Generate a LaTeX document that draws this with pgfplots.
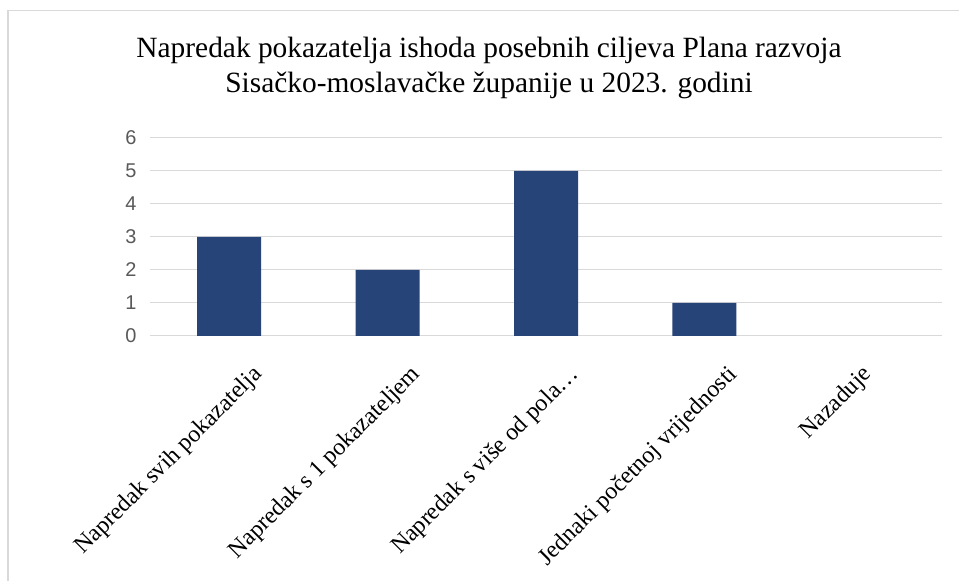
\documentclass[border=0pt]{standalone}
\usepackage{pgfplots}
\pgfplotsset{compat=1.18}
\usepackage{fontspec}
\setmainfont{Liberation Serif}
\newfontfamily\sansf{Liberation Sans}
\definecolor{barblue}{RGB}{38,68,120}
\definecolor{tickgray}{RGB}{89,89,89}
\definecolor{gridgray}{RGB}{217,217,217}
\begin{document}
\begin{tikzpicture}[x=1bp,y=1bp]
\useasboundingbox (0,0) rectangle (959,581);
\draw[color=gridgray, line width=1.5bp] (8,-20) -- (8,570.5) -- (990,570.5);
\node[anchor=base, font=\fontsize{29.5}{36}\selectfont] at (489,523) {Napredak pokazatelja ishoda posebnih ciljeva Plana razvoja};
\node[anchor=base, font=\fontsize{29.5}{36}\selectfont] at (489,488) {Sisačko-moslavačke županije u 2023. godini};
\begin{axis}[
  at={(150bp,245bp)}, anchor=south west,
  scale only axis, width=792bp, height=198bp,
  xmin=-0.5, xmax=4.5, ymin=0, ymax=6,
  xtick={0,1,2,3,4}, xticklabels={},
  ytick={0,1,2,3,4,5,6},
  ymajorgrids, grid style={draw=gridgray, line width=1bp},
  axis line style={draw=none},
  major tick length=0pt,
  /pgf/number format/assume math mode=true,
  yticklabel style={font=\sansf\fontsize{20}{22}\selectfont, text=tickgray, xshift=-10bp},
  ybar, bar width=64bp,
  clip=false,
]
\addplot[fill=barblue, draw=none] coordinates {(0,3) (1,2) (2,5) (3,1)};
\node[rotate=45, anchor=base east, font=\fontsize{24}{28}\selectfont] at ([xshift=36bp,yshift=-37bp]axis cs:0,0) {Napredak svih pokazatelja};
\node[rotate=45, anchor=base east, font=\fontsize{24}{28}\selectfont] at ([xshift=36bp,yshift=-37bp]axis cs:1,0) {Napredak s 1 pokazateljem};
\node[rotate=45, anchor=base east, font=\fontsize{24}{28}\selectfont] at ([xshift=36bp,yshift=-37bp]axis cs:2,0) {Napredak s više od pola…};
\node[rotate=45, anchor=base east, font=\fontsize{24}{28}\selectfont] at ([xshift=36bp,yshift=-37bp]axis cs:3,0) {Jednaki početnoj vrijednosti};
\node[rotate=45, anchor=base east, font=\fontsize{24}{28}\selectfont] at ([xshift=12bp,yshift=-37bp]axis cs:4,0) {Nazaduje};
\end{axis}
\end{tikzpicture}
\end{document}
